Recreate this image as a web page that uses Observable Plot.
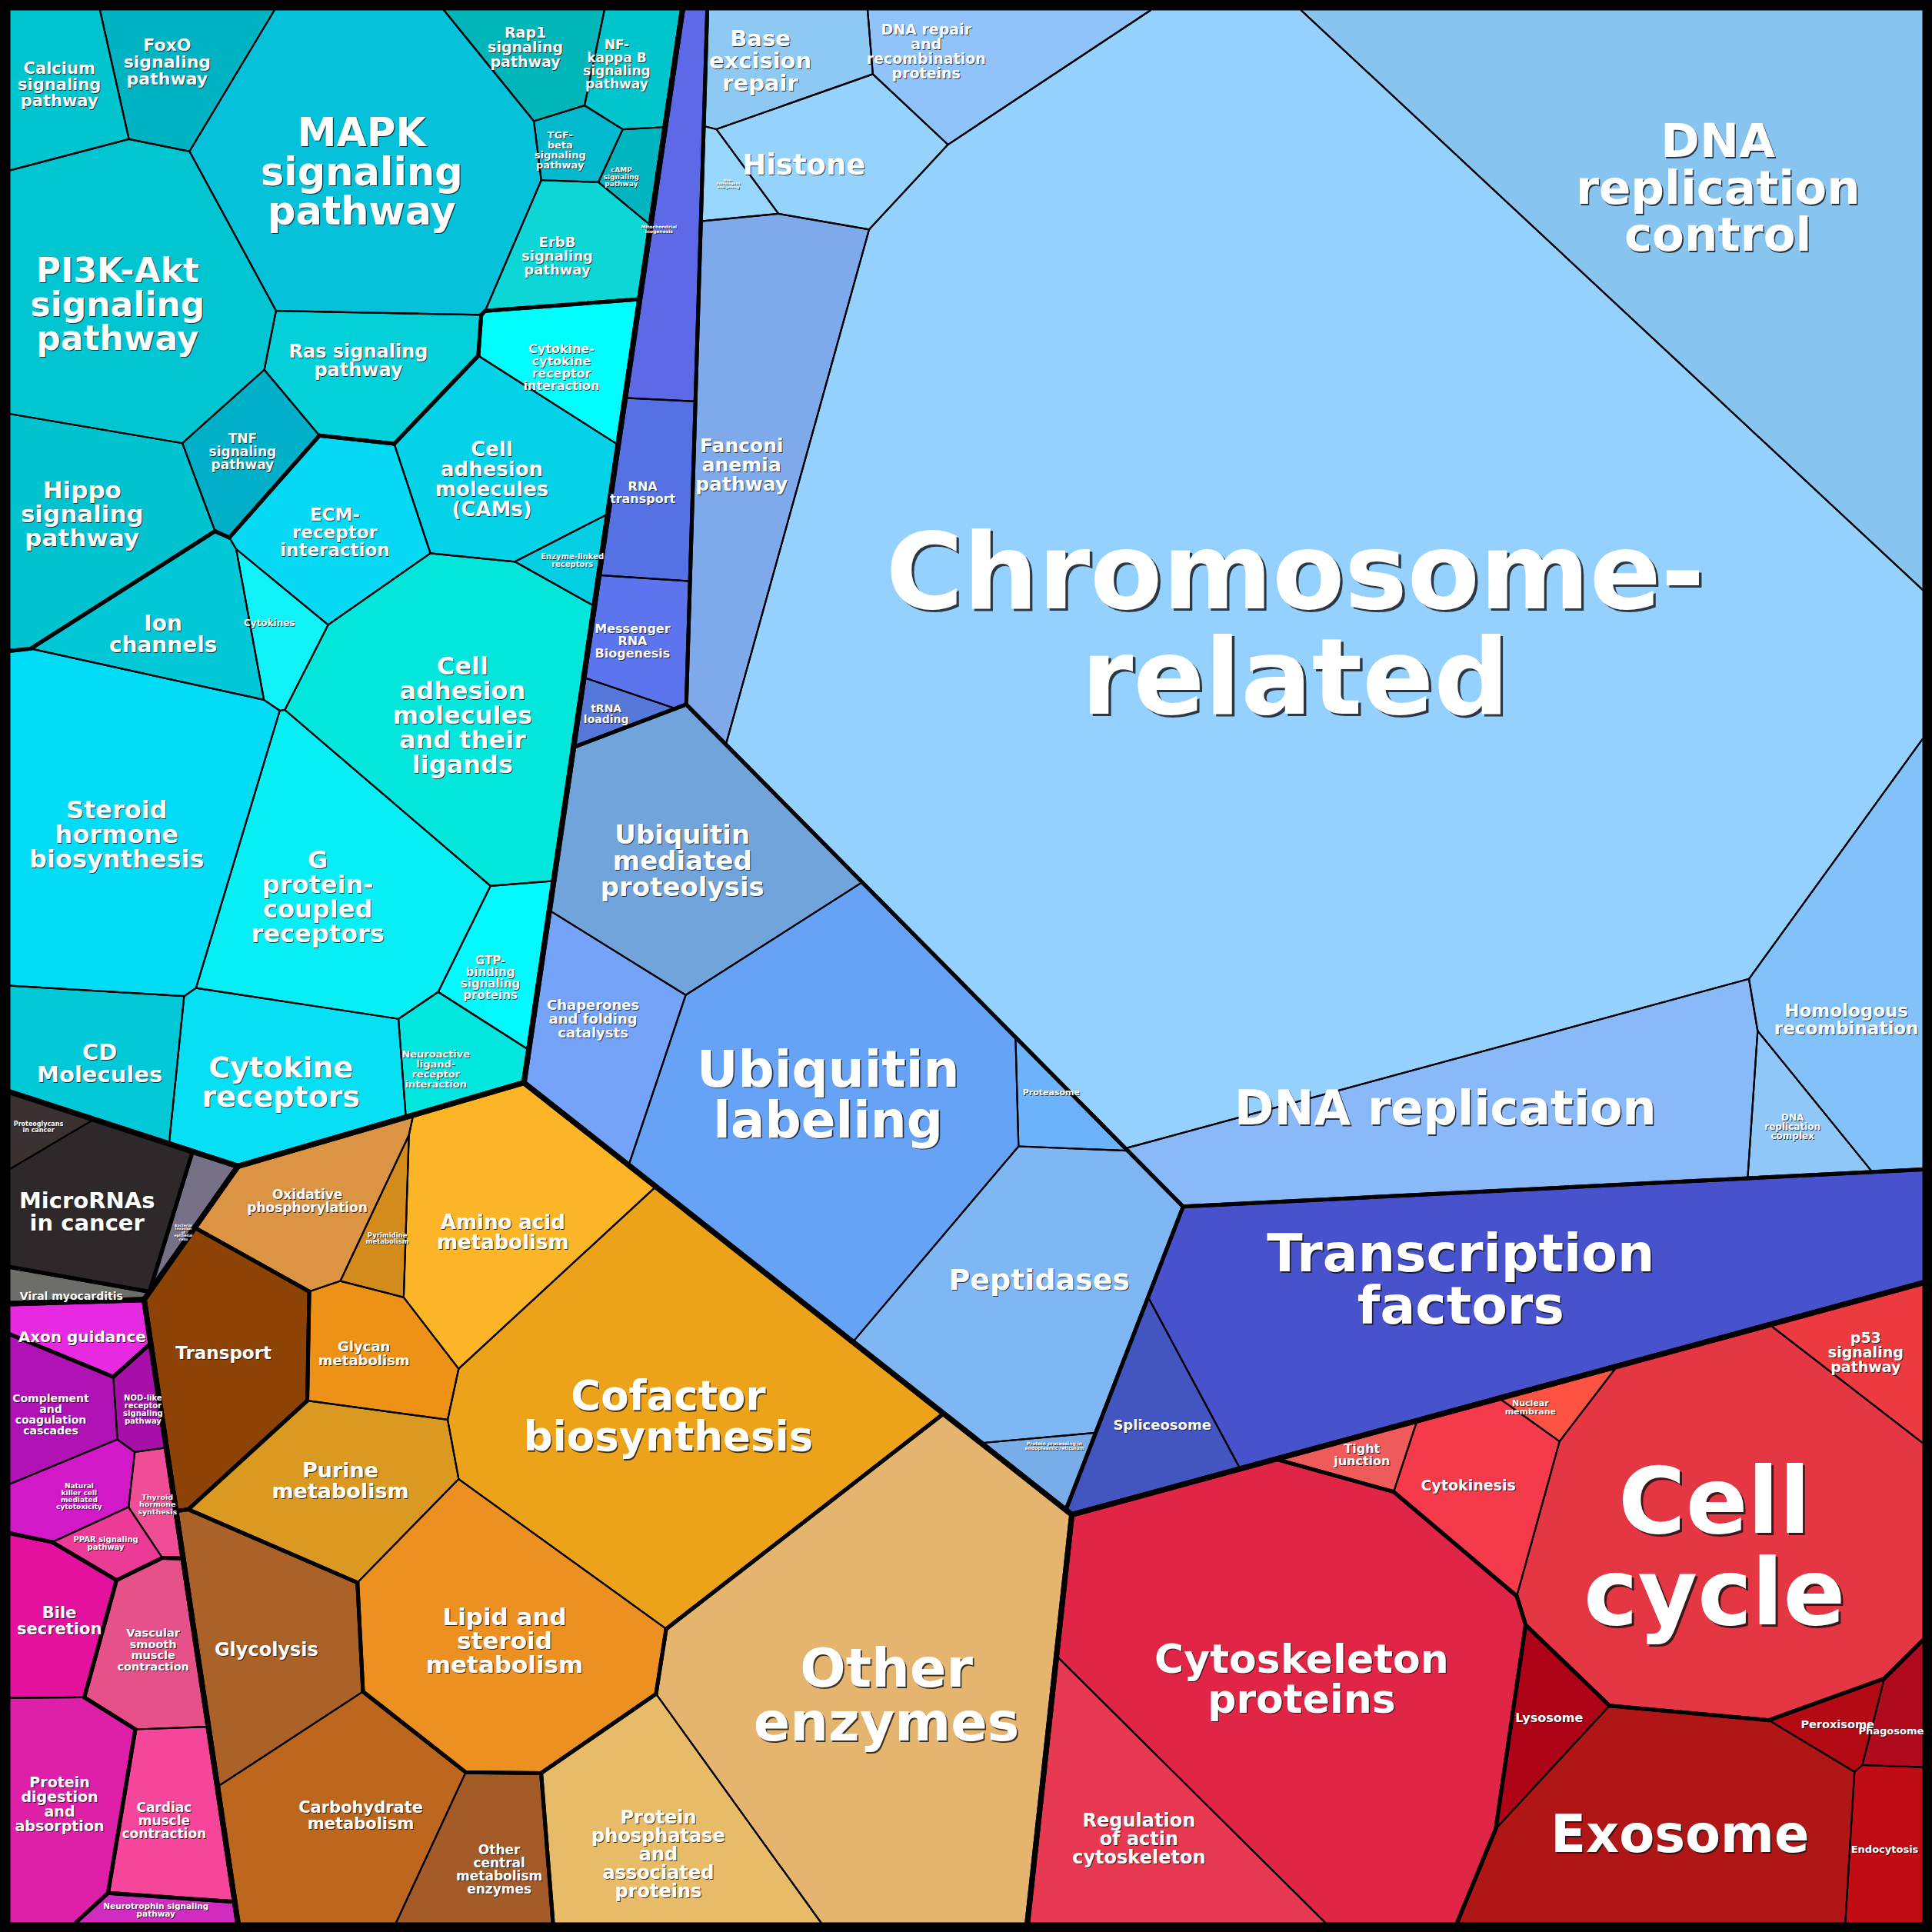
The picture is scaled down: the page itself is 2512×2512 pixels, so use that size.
<!DOCTYPE html>
<html>
<head>
<meta charset="utf-8">
<title>Proteomap</title>
<script src="https://cdn.jsdelivr.net/npm/d3@7"></script>
<script src="https://cdn.jsdelivr.net/npm/@observablehq/plot@0.6"></script>
<style>
  html, body { margin: 0; padding: 0; background: #000; }
  #chart svg { display: block; }
</style>
</head>
<body>
<div id="chart"></div>
<script>
// ================= DATA =================
const names = [
  // Environmental information processing – signal transduction
  "Calcium\nsignaling\npathway", "FoxO\nsignaling\npathway", "MAPK\nsignaling\npathway",
  "Rap1\nsignaling\npathway", "NF-\nkappa B\nsignaling\npathway", "TGF-\nbeta\nsignaling\npathway",
  "cAMP\nsignaling\npathway", "ErbB\nsignaling\npathway", "PI3K-Akt\nsignaling\npathway",
  "Ras signaling\npathway", "TNF\nsignaling\npathway", "Hippo\nsignaling\npathway",
  // signaling molecules and interaction
  "Cytokine-\ncytokine\nreceptor\ninteraction", "Cell\nadhesion\nmolecules\n(CAMs)", "Enzyme-linked\nreceptors",
  "ECM-\nreceptor\ninteraction", "Cytokines", "Ion\nchannels",
  "Cell\nadhesion\nmolecules\nand their\nligands", "Steroid\nhormone\nbiosynthesis", "G\nprotein-\ncoupled\nreceptors",
  "GTP-\nbinding\nsignaling\nproteins", "Neuroactive\nligand-\nreceptor\ninteraction", "Cytokine\nreceptors",
  "CD\nMolecules",
  // human diseases
  "Proteoglycans\nin cancer", "MicroRNAs\nin cancer", "Viral myocarditis", "Bacterial\ninvasion\nof\nepithelial\ncells",
  // organismal systems
  "Axon guidance", "Complement\nand\ncoagulation\ncascades", "NOD-like\nreceptor\nsignaling\npathway",
  "Natural\nkiller cell\nmediated\ncytotoxicity", "Thyroid\nhormone\nsynthesis", "PPAR signaling\npathway",
  "Bile\nsecretion", "Protein\ndigestion\nand\nabsorption", "Vascular\nsmooth\nmuscle\ncontraction",
  "Cardiac\nmuscle\ncontraction", "Neurotrophin signaling\npathway",
  // metabolism
  "Oxidative\nphosphorylation", "Pyrimidine\nmetabolism", "Amino acid\nmetabolism", "Glycan\nmetabolism",
  "Purine\nmetabolism", "Cofactor\nbiosynthesis", "Lipid and\nsteroid\nmetabolism", "Other\nenzymes",
  "Protein\nphosphatase\nand\nassociated\nproteins", "Transport", "Glycolysis", "Carbohydrate\nmetabolism",
  "Other\ncentral\nmetabolism\nenzymes",
  // cellular processes
  "Cytoskeleton\nproteins", "Regulation\nof actin\ncytoskeleton", "Tight\njunction", "Cytokinesis",
  "Nuclear\nmembrane", "Cell\ncycle", "p53\nsignaling\npathway", "Lysosome", "Exosome", "Peroxisome",
  "Phagosome", "Endocytosis",
  // genetic information processing
  "Mitochondrial\nbiogenesis", "RNA\ntransport", "Messenger\nRNA\nBiogenesis", "tRNA\nloading",
  "Base\nexcision\nrepair", "DNA repair\nand\nrecombination\nproteins", "Histone", "Non-\nhomologous\nend-joining",
  "Fanconi\nanemia\npathway", "Chromosome-\nrelated", "DNA\nreplication\ncontrol", "Homologous\nrecombination",
  "DNA\nreplication\ncomplex", "DNA replication", "Ubiquitin\nmediated\nproteolysis", "Chaperones\nand folding\ncatalysts",
  "Ubiquitin\nlabeling", "Proteasome", "Peptidases", "Protein processing in\nendoplasmic reticulum",
  "Transcription\nfactors", "Spliceosome"
];

// relative protein mass (area) per pathway
const values = [
  10.0, 10.5, 54.8, 7.3, 6.0, 3.3, 2.6, 10.0, 41.9, 14.1, 7.8, 21.2,
  9.6, 20.0, 2.6, 15.2, 4.6, 13.0, 44.3, 48.2, 35.0, 7.6, 6.9, 21.2, 14.0,
  2.1, 15.1, 2.0, 2.3,
  5.0, 7.3, 2.6, 5.5, 2.6, 2.7, 8.9, 15.6, 9.9, 11.1, 2.4,
  13.3, 3.4, 28.0, 10.3, 19.3, 78.1, 38.9, 95.0, 26.0, 20.3, 21.2, 26.0, 11.4,
  100.1, 26.0, 3.0, 12.8, 2.3, 81.3, 8.0, 6.4, 44.1, 3.3, 3.3, 7.4,
  12.2, 9.5, 7.5, 2.2, 10.1, 13.9, 14.0, 2.7, 35.9, 591.8, 118.0, 29.3, 6.0, 52.6,
  35.5, 15.8, 71.8, 3.9, 40.6, 2.8, 94.4, 11.4
];

const subcategory = [
  ...Array(12).fill("Signal transduction"),
  ...Array(13).fill("Signaling molecules and interaction"),
  "Cancers", "Cancers", "Cardiovascular diseases", "Infectious diseases",
  "Development", ...Array(5).fill("Immune system"), "Digestive system", "Digestive system",
  "Circulatory system", "Circulatory system", "Nervous system",
  ...Array(7).fill("Biosynthesis"), "Enzyme families", "Enzyme families", "Transport",
  ...Array(3).fill("Central carbon metabolism"),
  "Cell motility", "Cell motility", ...Array(5).fill("Cell growth and death"),
  ...Array(5).fill("Transport and catabolism"),
  ...Array(4).fill("Translation"), ...Array(10).fill("Replication and repair"),
  ...Array(6).fill("Folding, sorting and degradation"), "Transcription", "Transcription"
];

const categoryOf = {
  "Signal transduction": "Environmental Information Processing",
  "Signaling molecules and interaction": "Environmental Information Processing",
  "Cancers": "Human Diseases", "Cardiovascular diseases": "Human Diseases", "Infectious diseases": "Human Diseases",
  "Development": "Organismal Systems", "Immune system": "Organismal Systems", "Digestive system": "Organismal Systems",
  "Circulatory system": "Organismal Systems", "Nervous system": "Organismal Systems",
  "Biosynthesis": "Metabolism", "Enzyme families": "Metabolism", "Transport": "Metabolism",
  "Central carbon metabolism": "Metabolism",
  "Cell motility": "Cellular Processes", "Cell growth and death": "Cellular Processes",
  "Transport and catabolism": "Cellular Processes",
  "Translation": "Genetic Information Processing", "Replication and repair": "Genetic Information Processing",
  "Folding, sorting and degradation": "Genetic Information Processing", "Transcription": "Genetic Information Processing"
};

// ================= STYLES =================
const palette = {
  "Calcium\nsignaling\npathway": "#00C4CE", "FoxO\nsignaling\npathway": "#00B3C3", "MAPK\nsignaling\npathway": "#05C1D9",
  "Rap1\nsignaling\npathway": "#00B6B8", "NF-\nkappa B\nsignaling\npathway": "#00C5CC", "TGF-\nbeta\nsignaling\npathway": "#03B9CD",
  "cAMP\nsignaling\npathway": "#00B4C0", "ErbB\nsignaling\npathway": "#0DD6D6", "PI3K-Akt\nsignaling\npathway": "#01C6D2",
  "Ras signaling\npathway": "#04D0DA", "TNF\nsignaling\npathway": "#00B0C8", "Hippo\nsignaling\npathway": "#00C3CF",
  "Cytokine-\ncytokine\nreceptor\ninteraction": "#00FEFE", "Cell\nadhesion\nmolecules\n(CAMs)": "#04D2E8",
  "Enzyme-linked\nreceptors": "#03CEE4", "ECM-\nreceptor\ninteraction": "#06D9F3", "Cytokines": "#0EF2F8",
  "Ion\nchannels": "#01C7D6", "Cell\nadhesion\nmolecules\nand their\nligands": "#02E6DC",
  "Steroid\nhormone\nbiosynthesis": "#01DDF6", "G\nprotein-\ncoupled\nreceptors": "#05EFF4",
  "GTP-\nbinding\nsignaling\nproteins": "#02F9FE", "Neuroactive\nligand-\nreceptor\ninteraction": "#01E6DE",
  "Cytokine\nreceptors": "#07E0F4", "CD\nMolecules": "#01C9D8",
  "Proteoglycans\nin cancer": "#3B3131", "MicroRNAs\nin cancer": "#2F282A", "Viral myocarditis": "#6D6E69",
  "Bacterial\ninvasion\nof\nepithelial\ncells": "#777087",
  "Axon guidance": "#E72AE2", "Complement\nand\ncoagulation\ncascades": "#B012B6",
  "NOD-like\nreceptor\nsignaling\npathway": "#A70FAB", "Natural\nkiller cell\nmediated\ncytotoxicity": "#D318C9",
  "Thyroid\nhormone\nsynthesis": "#EF4E97", "PPAR signaling\npathway": "#EC3B96", "Bile\nsecretion": "#E4119F",
  "Protein\ndigestion\nand\nabsorption": "#DE1FA8", "Vascular\nsmooth\nmuscle\ncontraction": "#E7518A",
  "Cardiac\nmuscle\ncontraction": "#F5469B", "Neurotrophin signaling\npathway": "#D22BBF",
  "Oxidative\nphosphorylation": "#DA9444", "Pyrimidine\nmetabolism": "#D38C1C", "Amino acid\nmetabolism": "#FCB526",
  "Glycan\nmetabolism": "#ED9117", "Purine\nmetabolism": "#DA9A22", "Cofactor\nbiosynthesis": "#EDA319",
  "Lipid and\nsteroid\nmetabolism": "#EB9021", "Other\nenzymes": "#E5B56F",
  "Protein\nphosphatase\nand\nassociated\nproteins": "#E8BB68", "Transport": "#8E4306", "Glycolysis": "#AB6229",
  "Carbohydrate\nmetabolism": "#BD661D", "Other\ncentral\nmetabolism\nenzymes": "#A45B27",
  "Cytoskeleton\nproteins": "#E02546", "Regulation\nof actin\ncytoskeleton": "#E73951", "Tight\njunction": "#EF5A5A",
  "Cytokinesis": "#F43A4B", "Nuclear\nmembrane": "#FE5242", "Cell\ncycle": "#E53643", "p53\nsignaling\npathway": "#ED3A40",
  "Lysosome": "#AF0418", "Exosome": "#B11616", "Peroxisome": "#B30A14", "Phagosome": "#B00A1E", "Endocytosis": "#C10B15",
  "Mitochondrial\nbiogenesis": "#5E69E8", "RNA\ntransport": "#5671E3", "Messenger\nRNA\nBiogenesis": "#5C74EE",
  "tRNA\nloading": "#5578DA", "Base\nexcision\nrepair": "#8DC9F2", "DNA repair\nand\nrecombination\nproteins": "#8FC3FA",
  "Histone": "#95D3FC", "Non-\nhomologous\nend-joining": "#98D7FC", "Fanconi\nanemia\npathway": "#7EAAEC",
  "Chromosome-\nrelated": "#95D1FE", "DNA\nreplication\ncontrol": "#87C5F0", "Homologous\nrecombination": "#82C1FA",
  "DNA\nreplication\ncomplex": "#8FC7F8", "DNA replication": "#8AB9FA", "Ubiquitin\nmediated\nproteolysis": "#71A4DA",
  "Chaperones\nand folding\ncatalysts": "#74A3F7", "Ubiquitin\nlabeling": "#66A2F6", "Proteasome": "#6CB3FB",
  "Peptidases": "#7EB7F4", "Protein processing in\nendoplasmic reticulum": "#79ADE9",
  "Transcription\nfactors": "#4752CC", "Spliceosome": "#4255C1"
};

const fontSizes = {
  "Calcium\nsignaling\npathway": 21, "FoxO\nsignaling\npathway": 22, "MAPK\nsignaling\npathway": 51,
  "Rap1\nsignaling\npathway": 19, "NF-\nkappa B\nsignaling\npathway": 17, "TGF-\nbeta\nsignaling\npathway": 13,
  "cAMP\nsignaling\npathway": 9, "ErbB\nsignaling\npathway": 18, "PI3K-Akt\nsignaling\npathway": 44,
  "Ras signaling\npathway": 24, "TNF\nsignaling\npathway": 17, "Hippo\nsignaling\npathway": 31,
  "Cytokine-\ncytokine\nreceptor\ninteraction": 16, "Cell\nadhesion\nmolecules\n(CAMs)": 26,
  "Enzyme-linked\nreceptors": 10, "ECM-\nreceptor\ninteraction": 23, "Cytokines": 12, "Ion\nchannels": 28,
  "Cell\nadhesion\nmolecules\nand their\nligands": 32, "Steroid\nhormone\nbiosynthesis": 32,
  "G\nprotein-\ncoupled\nreceptors": 32, "GTP-\nbinding\nsignaling\nproteins": 15,
  "Neuroactive\nligand-\nreceptor\ninteraction": 13, "Cytokine\nreceptors": 38, "CD\nMolecules": 29,
  "Proteoglycans\nin cancer": 8, "MicroRNAs\nin cancer": 29, "Viral myocarditis": 14,
  "Bacterial\ninvasion\nof\nepithelial\ncells": 4.5,
  "Axon guidance": 20, "Complement\nand\ncoagulation\ncascades": 14, "NOD-like\nreceptor\nsignaling\npathway": 10,
  "Natural\nkiller cell\nmediated\ncytotoxicity": 9, "Thyroid\nhormone\nsynthesis": 9.5, "PPAR signaling\npathway": 10,
  "Bile\nsecretion": 21, "Protein\ndigestion\nand\nabsorption": 19, "Vascular\nsmooth\nmuscle\ncontraction": 14.5,
  "Cardiac\nmuscle\ncontraction": 17, "Neurotrophin signaling\npathway": 10.5,
  "Oxidative\nphosphorylation": 17, "Pyrimidine\nmetabolism": 8.5, "Amino acid\nmetabolism": 26,
  "Glycan\nmetabolism": 18, "Purine\nmetabolism": 27, "Cofactor\nbiosynthesis": 53, "Lipid and\nsteroid\nmetabolism": 31,
  "Other\nenzymes": 70, "Protein\nphosphatase\nand\nassociated\nproteins": 24, "Transport": 23, "Glycolysis": 24,
  "Carbohydrate\nmetabolism": 21, "Other\ncentral\nmetabolism\nenzymes": 17,
  "Cytoskeleton\nproteins": 52, "Regulation\nof actin\ncytoskeleton": 24, "Tight\njunction": 16, "Cytokinesis": 19,
  "Nuclear\nmembrane": 11, "Cell\ncycle": 119, "p53\nsignaling\npathway": 19, "Lysosome": 16, "Exosome": 67,
  "Peroxisome": 14.5, "Phagosome": 13, "Endocytosis": 13,
  "Mitochondrial\nbiogenesis": 6, "RNA\ntransport": 16, "Messenger\nRNA\nBiogenesis": 16, "tRNA\nloading": 14,
  "Base\nexcision\nrepair": 29, "DNA repair\nand\nrecombination\nproteins": 19, "Histone": 37,
  "Non-\nhomologous\nend-joining": 4.5, "Fanconi\nanemia\npathway": 25, "Chromosome-\nrelated": 137,
  "DNA\nreplication\ncontrol": 61, "Homologous\nrecombination": 23, "DNA\nreplication\ncomplex": 12,
  "DNA replication": 62, "Ubiquitin\nmediated\nproteolysis": 34, "Chaperones\nand folding\ncatalysts": 18,
  "Ubiquitin\nlabeling": 66, "Proteasome": 11, "Peptidases": 38, "Protein processing in\nendoplasmic reticulum": 6,
  "Transcription\nfactors": 68, "Spliceosome": 18
};

// Initial seed hints for the iterative Voronoi-treemap layout (reference pixel space, 1568 px square).
// Cells, borders and label anchors are computed from the values by the power-diagram solver below.
const layoutSeeds = [
  [43,68],[132,48],[290,143],[422,36],[494,51],[449,123],[499,146],[446,210],[91,251],[287,290],[195,367],[63,416],
  [453,302],[395,393],[437,475],[271,434],[215,502],[128,518],[376,584],[92,682],[251,730],[393,800],[347,872],[228,881],[81,866],
  [25,915],[67,986],[55,1054],[145,1010],
  [65,1087],[39,1150],[117,1145],[66,1215],[128,1222],[83,1252],[45,1316],[46,1464],[125,1338],[130,1478],[125,1550],
  [249,974],[315,1005],[408,1008],[291,1098],[277,1201],[541,1152],[411,1332],[718,1380],[535,1512],[181,1096],[216,1342],[301,1472],[409,1522],
  [1054,1364],[925,1494],[1105,1180],[1187,1207],[1232,1144],[1386,1262],[1512,1099],[1259,1394],[1365,1492],[1430,1384],[1533,1410],[1530,1502],
  [528,175],[518,400],[510,521],[490,580],[610,50],[733,40],[641,138],[577,185],[597,392],[1050,518],[1395,148],[1495,840],[1404,914],[1153,897],
  [553,702],[479,821],[670,885],[852,880],[846,1034],[858,1168],[1171,1036],[947,1156]
];
// seed overrides for a few group nodes (otherwise a group is seeded at the value-weighted mean of its pathways)
const groupSeedHints = {
  "Environmental Information Processing": [239, 470],
  "Translation": [518, 462],
  "Transcription": [1112, 1049]
};
// categories laid out with an intermediate sub-category level (the others place pathways directly)
const nestedCategories = new Set(["Genetic Information Processing"]);

// ================= LAYOUT: power diagrams solved for areas =================
const SIZE = 1552, OFFSET = 8;
const N = names.length;
const category = subcategory.map(s => categoryOf[s]);
const sites = layoutSeeds.map(([x, y]) => [x - OFFSET, y - OFFSET]);
const d2 = (a, b) => (a[0] - b[0]) ** 2 + (a[1] - b[1]) ** 2;

function clipHalf(poly, ax, ay, b, tag) {
  const m = poly.length, f = new Array(m);
  let anyOut = false, anyIn = false;
  for (let k = 0; k < m; k++) {
    f[k] = ax * poly[k].x + ay * poly[k].y - b;
    if (f[k] > 0) anyOut = true; else anyIn = true;
  }
  if (!anyOut) return poly;
  if (!anyIn) return [];
  const out = [];
  for (let k = 0; k < m; k++) {
    const P = poly[k], Q = poly[(k + 1) % m], fp = f[k], fq = f[(k + 1) % m];
    if (fp <= 0) {
      out.push(P);
      if (fq > 0) { const t = fp / (fp - fq); out.push({x: P.x + (Q.x - P.x) * t, y: P.y + (Q.y - P.y) * t, t: tag}); }
    } else if (fq <= 0) {
      const t = fp / (fp - fq); out.push({x: P.x + (Q.x - P.x) * t, y: P.y + (Q.y - P.y) * t, t: P.t});
    }
  }
  return out;
}
function polyArea(p) {
  let a = 0;
  for (let k = 0; k < p.length; k++) { const P = p[k], Q = p[(k + 1) % p.length]; a += P.x * Q.y - Q.x * P.y; }
  return Math.abs(a) / 2;
}
function polyCentroid(p) {
  let a = 0, cx = 0, cy = 0;
  for (let k = 0; k < p.length; k++) {
    const P = p[k], Q = p[(k + 1) % p.length], c = P.x * Q.y - Q.x * P.y;
    a += c; cx += (P.x + Q.x) * c; cy += (P.y + Q.y) * c;
  }
  return {x: cx / (3 * a), y: cy / (3 * a)};
}
function inside(pt, poly) {
  let sgn = 0;
  for (let k = 0; k < poly.length; k++) {
    const P = poly[k], Q = poly[(k + 1) % poly.length];
    const c = (Q.x - P.x) * (pt[1] - P.y) - (Q.y - P.y) * (pt[0] - P.x);
    if (Math.abs(c) < 1e-9) continue;
    if (sgn === 0) sgn = Math.sign(c); else if (Math.sign(c) !== sgn) return false;
  }
  return true;
}
// move a seed that falls outside the polygon to the nearest boundary point, nudged inward
function ensureInside(pt, poly) {
  if (inside(pt, poly)) return pt;
  let best = null, bd = Infinity;
  for (let k = 0; k < poly.length; k++) {
    const P = poly[k], Q = poly[(k + 1) % poly.length];
    const ex = Q.x - P.x, ey = Q.y - P.y, L2 = ex * ex + ey * ey || 1;
    const t = Math.max(0, Math.min(1, ((pt[0] - P.x) * ex + (pt[1] - P.y) * ey) / L2));
    const C = [P.x + ex * t, P.y + ey * t], d = d2(pt, C);
    if (d < bd) { bd = d; best = C; }
  }
  const c = polyCentroid(poly);
  const dx = c.x - best[0], dy = c.y - best[1], L = Math.hypot(dx, dy) || 1;
  const m = Math.min(8, 0.3 * L);
  return [best[0] + dx / L * m, best[1] + dy / L * m];
}
function solve(M, b) {
  const n = b.length;
  for (let c = 0; c < n; c++) {
    let p = c, mv = Math.abs(M[c][c]);
    for (let r = c + 1; r < n; r++) { const v = Math.abs(M[r][c]); if (v > mv) { mv = v; p = r; } }
    if (mv < 1e-18) continue;
    if (p !== c) { const tm = M[p]; M[p] = M[c]; M[c] = tm; const tb = b[p]; b[p] = b[c]; b[c] = tb; }
    for (let r = c + 1; r < n; r++) {
      const fct = M[r][c] / M[c][c];
      if (fct === 0) continue;
      for (let k = c; k < n; k++) M[r][k] -= fct * M[c][k];
      b[r] -= fct * b[c];
    }
  }
  const x = new Float64Array(n);
  for (let r = n - 1; r >= 0; r--) {
    let s = b[r];
    for (let k = r + 1; k < n; k++) s -= M[r][k] * x[k];
    x[r] = Math.abs(M[r][r]) < 1e-18 ? 0 : s / M[r][r];
  }
  return x;
}

// Power diagram of sites S inside convex polygon clip; weights solved (Newton) so areas are proportional to T
function powerSolve(clip, S, T) {
  const n = S.length;
  const base = clip.map(p => ({x: p.x, y: p.y, t: -1}));
  if (n === 1) return [base];
  const A0 = polyArea(base), tsum = d3.sum(T);
  const tgt = T.map(t => t / tsum * A0);
  const ord = S.map((s, i) => d3.range(n).filter(j => j !== i).sort((a, b) => d2(s, S[a]) - d2(s, S[b])));
  const cellsFor = W => S.map((si, i) => {
    let poly = base;
    const pi = si[0] * si[0] + si[1] * si[1];
    for (const j of ord[i]) {
      const sj = S[j];
      const b = sj[0] * sj[0] + sj[1] * sj[1] - pi - W[j] + W[i];
      poly = clipHalf(poly, 2 * (sj[0] - si[0]), 2 * (sj[1] - si[1]), b, j);
      if (poly.length < 3) return [];
    }
    return poly;
  });
  const evaluate = W => {
    const cells = cellsFor(W), areas = cells.map(polyArea);
    let err = 0;
    for (let i = 0; i < n; i++) err += Math.abs(areas[i] - tgt[i]);
    return {cells, areas, err};
  };
  let W = tgt.map(t => t / Math.PI);
  let state = evaluate(W);
  for (let it = 0; it < 300; it++) {
    let revived = false;
    for (let i = 0; i < n; i++) if (state.areas[i] < 1e-6) {
      let m = -Infinity;
      for (let j = 0; j < n; j++) if (j !== i) m = Math.max(m, W[j] - d2(S[i], S[j]));
      W[i] = m + tgt[i] / Math.PI; revived = true;
    }
    if (revived) { state = evaluate(W); continue; }
    let worst = 0;
    for (let i = 0; i < n; i++) worst = Math.max(worst, Math.abs(state.areas[i] - tgt[i]) / tgt[i]);
    if (worst < 0.002) break;
    const M = Array.from({length: n}, () => new Float64Array(n));
    const b = new Float64Array(n);
    state.cells.forEach((poly, i) => {
      const m = poly.length;
      for (let k = 0; k < m; k++) {
        const j = poly[k].t;
        if (j < 0) continue;
        const q = poly[(k + 1) % m];
        const c = Math.hypot(q.x - poly[k].x, q.y - poly[k].y) / (2 * Math.sqrt(Math.max(1e-6, d2(S[i], S[j]))));
        M[i][i] += c; M[i][j] -= c;
      }
      b[i] = tgt[i] - state.areas[i];
    });
    let tr = 0;
    for (let i = 0; i < n; i++) tr += M[i][i];
    for (let i = 0; i < n; i++) M[i][i] += 1e-7 * tr / n;
    const delta = solve(M, b);
    let alpha = 1, accepted = false;
    for (let t = 0; t < 8; t++) {
      const W2 = W.map((w, i) => w + alpha * delta[i]);
      const s2 = evaluate(W2);
      if (s2.err < state.err) { W = W2; state = s2; accepted = true; break; }
      alpha *= 0.5;
    }
    if (!accepted) break;
  }
  return state.cells;
}

const edgeRows = [];
const leafCells = new Array(N).fill(null);
const leafSites = new Array(N).fill(null);
function seedOf(idxs, key) {
  if (groupSeedHints[key]) return [groupSeedHints[key][0] - OFFSET, groupSeedHints[key][1] - OFFSET];
  const v = d3.sum(idxs, i => values[i]);
  return [d3.sum(idxs, i => values[i] * sites[i][0]) / v, d3.sum(idxs, i => values[i] * sites[i][1]) / v];
}
function pushEdges(poly, widthOf) {
  poly.forEach((v, k) => {
    if (v.t < 0) return;
    const q = poly[(k + 1) % poly.length];
    edgeRows.push({x1: v.x, y1: v.y, x2: q.x, y2: q.y, w: widthOf(v.t)});
  });
}
function layoutLeaves(clip, idx) {
  if (!clip || clip.length < 3) return;
  const S = idx.map(i => ensureInside(sites[i], clip));
  const cells = powerSolve(clip, S, idx.map(i => values[i]));
  cells.forEach((poly, k) => {
    const i = idx[k];
    leafCells[i] = poly; leafSites[i] = S[k];
    pushEdges(poly, t => subcategory[i] !== subcategory[idx[t]] ? 5 : 2.2);
  });
}
const frame = [{x: 0, y: 0}, {x: SIZE, y: 0}, {x: SIZE, y: SIZE}, {x: 0, y: SIZE}];
const catList = [...new Set(category)];
const catGroups = catList.map(c => d3.range(N).filter(i => category[i] === c));
const catCells = powerSolve(frame, catGroups.map((g, ci) => seedOf(g, catList[ci])), catGroups.map(g => d3.sum(g, i => values[i])));
catCells.forEach(poly => pushEdges(poly, () => 7));
catList.forEach((c, ci) => {
  const clip = catCells[ci], idx = catGroups[ci];
  if (!clip || clip.length < 3) return;
  if (nestedCategories.has(c)) {
    const subs = [...new Set(idx.map(i => subcategory[i]))];
    const subGroups = subs.map(s => idx.filter(i => subcategory[i] === s));
    const subCells = powerSolve(clip, subGroups.map((g, si) => ensureInside(seedOf(g, subs[si]), clip)), subGroups.map(g => d3.sum(g, i => values[i])));
    subCells.forEach(poly => pushEdges(poly, () => 5));
    subGroups.forEach((g, si) => layoutLeaves(subCells[si], g));
  } else {
    layoutLeaves(clip, idx);
  }
});
edgeRows.sort((a, b) => a.w - b.w);

// ================= MARK DATA =================
const PX = (2499 - 13) / SIZE;
const cellRows = [];
leafCells.forEach((poly, i) => {
  if (!poly || poly.length < 3) return;
  poly.forEach(v => cellRows.push({id: i, x: v.x, y: v.y, fill: palette[names[i]] || "#888"}));
});
// label anchor: between the cell's generator site and its centroid
const labelRows = names.map((name, i) => {
  const poly = leafCells[i];
  const size = fontSizes[name] || 10;
  let x = sites[i][0], y = sites[i][1];
  if (poly && poly.length >= 3) {
    const c = polyCentroid(poly), s = leafSites[i];
    if (s && inside(s, poly)) { x = 0.3 * c.x + 0.7 * s[0]; y = 0.3 * c.y + 0.7 * s[1]; } else { x = c.x; y = c.y; }
  }
  const lines = name.split("\n");
  const hw = d3.max(lines, l => l.length) * 0.64 * size / 2 / PX + 2;
  const hh = lines.length * size / 2 / PX + 2;
  x = Math.max(hw, Math.min(SIZE - hw, x));
  y = Math.max(hh, Math.min(SIZE - hh, y));
  return {x, y, text: name, size};
});
const shadowRows = labelRows.map(d => {
  const o = Math.max(1, d.size * 0.025) / PX;
  return {...d, x: d.x + o, y: d.y + o};
});

const chart = Plot.plot({
  width: 2512, height: 2512, margin: 0,
  x: {domain: [0, SIZE], range: [13, 2499], axis: null},
  y: {domain: [0, SIZE], range: [13, 2499], axis: null},
  color: {type: "identity"},
  style: {background: "#000"},
  marks: [
    Plot.line(cellRows, {x: "x", y: "y", z: "id", fill: d => d.fill, stroke: "none", curve: "linear-closed"}),
    Plot.link(edgeRows, {x1: "x1", y1: "y1", x2: "x2", y2: "y2", stroke: "#000", strokeWidth: d => d.w, strokeLinecap: "round"}),
    Plot.text(shadowRows, {x: "x", y: "y", text: "text", fontSize: d => d.size, fill: "#111111", fillOpacity: 0.8,
      fontFamily: "DejaVu Sans", fontWeight: "bold", lineHeight: 1}),
    Plot.text(labelRows, {x: "x", y: "y", text: "text", fontSize: d => d.size, fill: "#ffffff",
      fontFamily: "DejaVu Sans", fontWeight: "bold", lineHeight: 1})
  ]
});
document.getElementById("chart").appendChild(chart);
</script>
</body>
</html>
